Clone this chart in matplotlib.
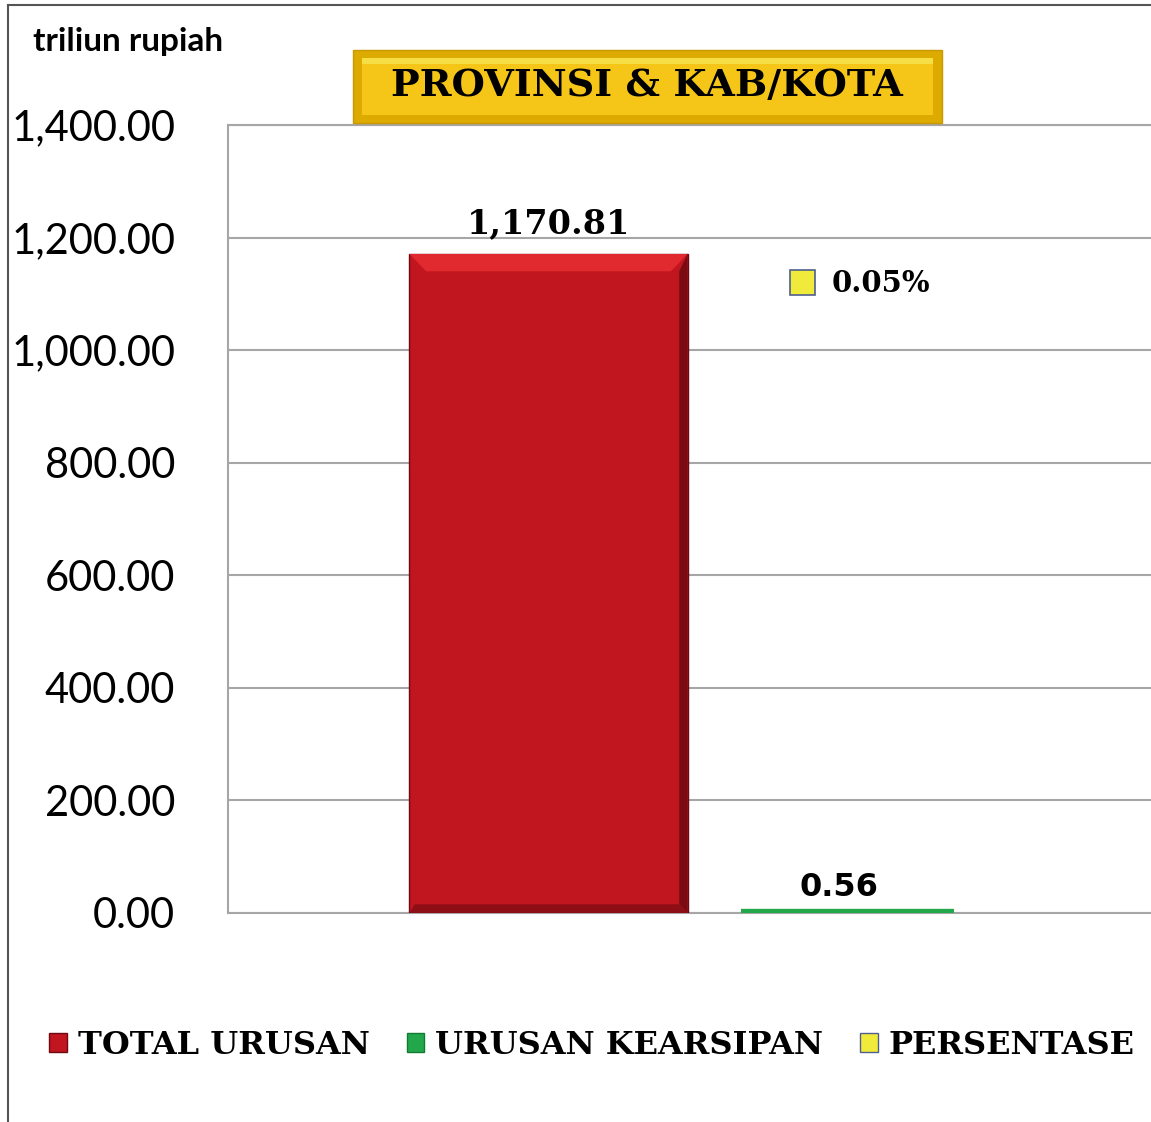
import numpy as np
import matplotlib
matplotlib.use('Agg')
import matplotlib.pyplot as plt
from matplotlib.patches import Rectangle, Patch, Polygon
from matplotlib.lines import Line2D

# data (triliun rupiah)
series = ['TOTAL URUSAN', 'URUSAN KEARSIPAN', 'PERSENTASE']
values = [1170.81, 0.56, 0.05]
value_labels = ['1,170.81', '0.56', '0.05%']
colors = ['#C1151F', '#22A84A', '#F0EA3A']
edges = ['#6E0A10', '#22A84A', '#4F5F8F']
yticks = [0, 200, 400, 600, 800, 1000, 1200, 1400]

W, H = 1151, 1122
fig = plt.figure(figsize=(W / 100, H / 100), dpi=100)
fig.patch.set_facecolor('white')

ax = fig.add_axes([228 / W, 1 - 913 / H, (W - 228) / W, (913 - 125) / H])

x = np.arange(len(series))
widths = [0.93, 0.71, 0.71]
# tiny green bar gets a thick edge so it shows (lower half is clipped at the axis)
bars = ax.bar(x, values, width=widths, color=colors, edgecolor=edges,
              linewidth=[1.0, 6.0, 0], zorder=3)

ax.set_ylim(0, 1400)
ax.set_xlim(-1.072, 2.015)
ax.set_yticks(yticks)
ax.set_yticklabels(['{:,.2f}'.format(v) for v in yticks], fontfamily='Lato', fontsize=30)
ax.tick_params(axis='y', length=0, pad=38)
ax.set_xticks([])
ax.yaxis.grid(True, color='#A6A6A6', linewidth=1.5, zorder=0)
ax.set_axisbelow(True)
for s in ['left', 'top', 'bottom']:
    ax.spines[s].set_color('#A6A6A6')
    ax.spines[s].set_linewidth(1.5)
ax.spines['right'].set_visible(False)

# bevel look on the big bar (taken from the bar geometry)
b = bars[0]
bx, bw, bh = b.get_x(), b.get_width(), b.get_height()
dx, dy = bw * 0.06, 1400 * 0.022
ax.add_patch(Polygon([[bx, bh], [bx + bw, bh], [bx + bw - dx, bh - dy], [bx + dx, bh - dy]],
                     closed=True, facecolor='#E02A30', edgecolor='none', zorder=4))
ax.add_patch(Polygon([[bx + bw, bh], [bx + bw, 0], [bx + bw - dx * 0.5, dy * 0.5], [bx + bw - dx * 0.5, bh - dy]],
                     closed=True, facecolor='#7A0B12', edgecolor='none', zorder=4))
ax.add_patch(Polygon([[bx, 0], [bx + bw, 0], [bx + bw - dx * 0.5, dy * 0.5], [bx + dx * 0.3, dy * 0.5]],
                     closed=True, facecolor='#8E0E16', edgecolor='none', zorder=4))

# data labels
ax.text(x[0], values[0] + 25, value_labels[0], ha='center', va='bottom',
        fontfamily='DejaVu Serif', fontweight='bold', fontsize=24)
ax.text(x[1] - 0.03, values[1] + 18, value_labels[1], ha='center', va='bottom',
        fontfamily='DejaVu Sans', fontweight='bold', fontsize=23)
# percentage label with its own little key
fig.patches.append(Rectangle((790 / W, 1 - 295 / H), 25 / W, 25 / H, transform=fig.transFigure,
                             facecolor=colors[2], edgecolor=edges[2], linewidth=1.2))
fig.text(832 / W, 1 - 283 / H, value_labels[2], ha='left', va='center',
         fontfamily='DejaVu Serif', fontweight='bold', fontsize=21)

# unit label
fig.text(33 / W, 1 - 51 / H, 'triliun rupiah', ha='left', va='baseline',
         fontfamily='Lato', fontweight='bold', fontsize=24)

# title box
fig.patches.append(Rectangle((353 / W, 1 - 123 / H), 589 / W, 73 / H, transform=fig.transFigure,
                             facecolor='#DDAA00', edgecolor='#C89A00', linewidth=1))
fig.patches.append(Rectangle((362 / W, 1 - 115 / H), 571 / W, 57 / H, transform=fig.transFigure,
                             facecolor='#F5C518', edgecolor='none'))
fig.patches.append(Rectangle((362 / W, 1 - 64 / H), 571 / W, 6 / H, transform=fig.transFigure,
                             facecolor='#F6DE45', edgecolor='none'))
fig.text(647 / W, 1 - 86 / H, 'PROVINSI & KAB/KOTA', ha='center', va='center',
         fontfamily='DejaVu Serif', fontweight='bold', fontsize=27.5)

# chart border
fig.add_artist(Line2D([8 / W, 8 / W], [0, 1 - 5 / H], transform=fig.transFigure, color='#555555', linewidth=1.5))
fig.add_artist(Line2D([8 / W, 1], [1 - 5 / H, 1 - 5 / H], transform=fig.transFigure, color='#555555', linewidth=1.5))

# legend
handles = [Patch(facecolor=c, edgecolor=e, linewidth=1) for c, e in zip(colors, ['#6E0A10', '#137A33', '#4F5F8F'])]
leg = fig.legend(handles, series, loc='center', bbox_to_anchor=(592 / W, 1 - 1045 / H), ncol=3,
                 frameon=False, prop={'family': 'DejaVu Serif', 'weight': 'bold', 'size': 23},
                 handlelength=0.55, handleheight=0.55, handletextpad=0.35, columnspacing=1.15)

fig.savefig('out.png', dpi=100)
